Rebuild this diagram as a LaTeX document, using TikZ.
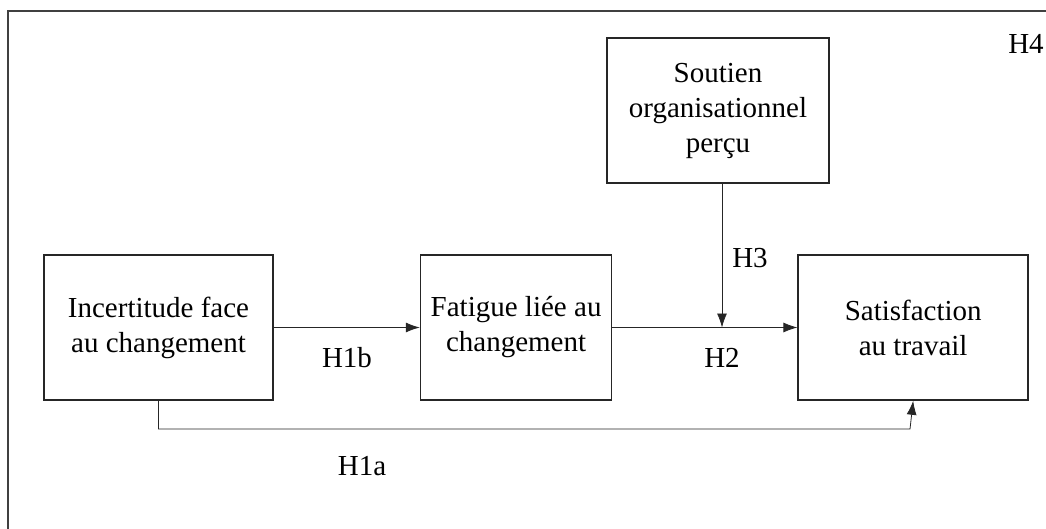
\documentclass[tikz,border=0pt]{standalone}
\usepackage{fontspec}
\setmainfont{Liberation Serif}
\usetikzlibrary{arrows.meta, positioning}

\begin{document}
\begin{tikzpicture}[x=1pt, y=-1pt, >={Latex[length=14pt,width=10pt]},
  font=\fontsize{29}{35}\selectfont, text=black,
  var/.style={draw=black!85, line width=1.6pt, minimum height=145pt, align=center, inner sep=0pt},
  link/.style={->, line width=0.8pt, draw=black!85}]

\clip (0,0) rectangle (1046,529);
\draw[line width=1.8pt, black!75] (1060,11) -- (8,11) -- (8,540);

\begin{scope}[node distance = 146pt]
    \node[var, minimum width=229pt] (incert) at (158.5,327.5) {Incertitude face\\au changement};
    \node[var, minimum width=191pt, right=of incert] (fatigue) {Fatigue liée au\\changement};
    \node[var, minimum width=230pt, right=185pt of fatigue] (satisf) {Satisfaction\\au travail};
    \node[var, minimum width=222pt] (soutien) at (718,110.5) {Soutien\\organisationnel\\perçu};
\end{scope}

\coordinate (mod) at (722,327.5);
\coordinate (bend) at (910,429);

\draw[link] (incert) -- (fatigue);
\draw[link] (fatigue) -- (satisf);
\draw[link] (soutien.south -| mod) -- (mod);
\draw[link] (incert.south) |- (bend) -- (satisf.south);

\node (h1b) at (347,358) {H1b};
\node (h2) at (722,358) {H2};
\node (h3) at (750,258) {H3};
\node (h1a) at (362,466) {H1a};
\node (h4) at (1026,44) {H4};
\end{tikzpicture}
\end{document}
